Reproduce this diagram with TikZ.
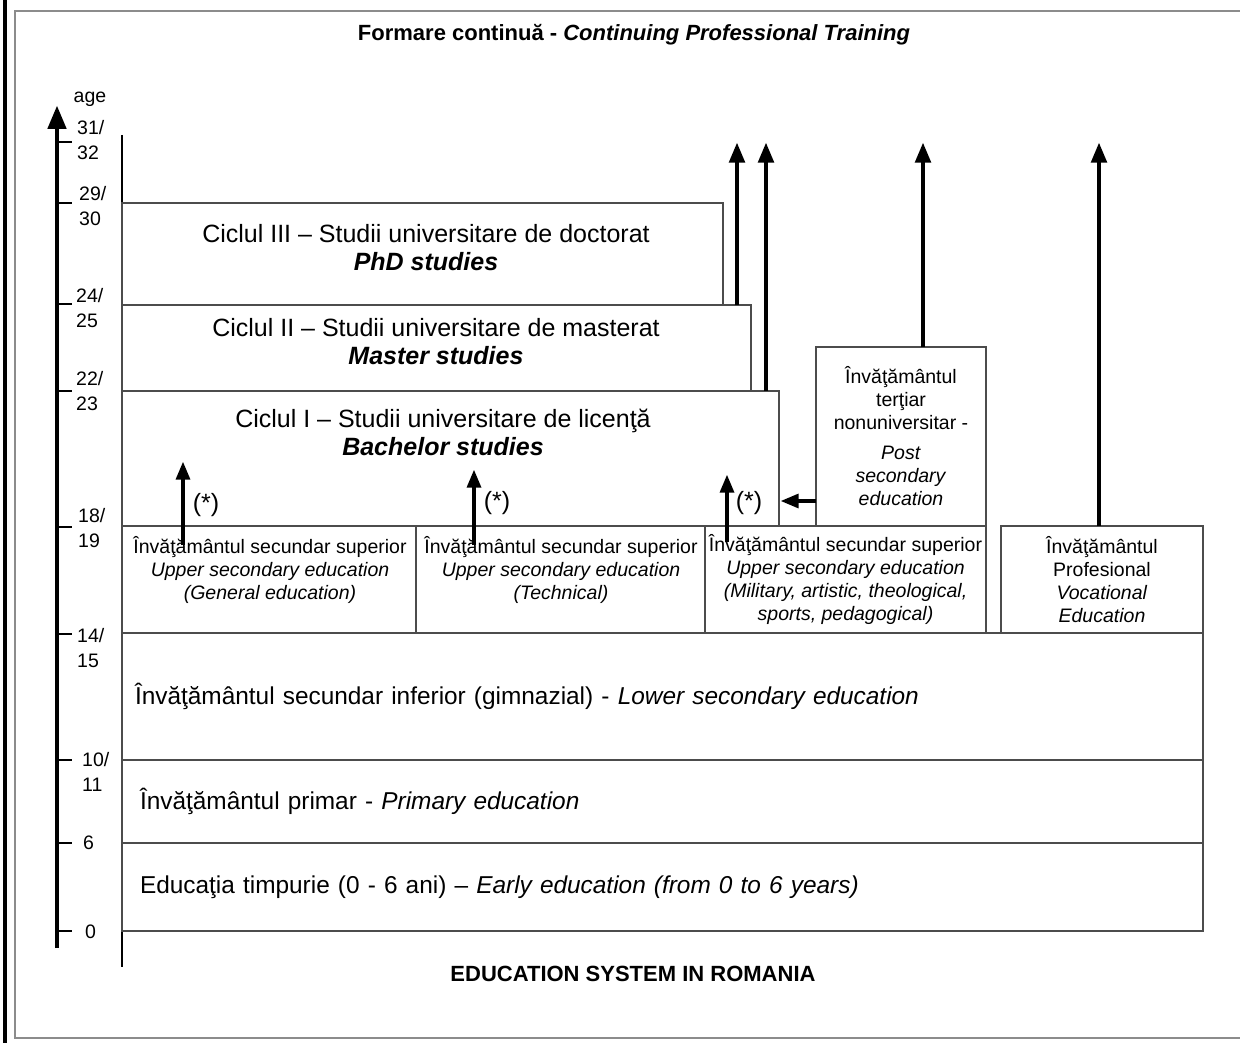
\documentclass[tikz,border=0pt]{standalone}
\usepackage{fontspec}
\setmainfont{Liberation Sans}
\usetikzlibrary{arrows,positioning}

\begin{document}
\begin{tikzpicture}[x=1pt,y=1pt,
    box/.style={draw=black!70, line width=1.3pt, inner sep=0pt, outer sep=0pt},
    big/.style={font=\fontsize{25}{28}\selectfont, align=center, inner sep=0pt},
    row/.style={font=\fontsize{24.4}{28}\selectfont, align=left, inner sep=0pt},
    small/.style={font=\fontsize{19.5}{23}\selectfont, align=center, inner sep=0pt},
    head/.style={font=\fontsize{22}{26}\selectfont\bfseries, inner sep=0pt},
    agenum/.style={font=\fontsize{19.5}{24.5}\selectfont, align=left, anchor=west, inner sep=0pt},
    up/.style={-triangle 45, line width=3.7pt},
    star/.style={-triangle 45, line width=3.2pt}]
    \useasboundingbox (0,0) rectangle (1240,-1043);
    % frame
    \draw [black!45, line width=2pt] (15,-11) rectangle (1260,-1038);
    \draw [black, line width=4pt] (5,0) -- (5,-1043);
    % titles
    \node [head] (title) at (634,-35) {Formare continuă - \textit{Continuing Professional Training}};
    \node [head] (foot) at (633,-974) {EDUCATION SYSTEM IN ROMANIA};
    % age axis
    \coordinate (ax0) at (57,-948);
    \coordinate (ax1) at (57,-106);
    \draw [-triangle 45, line width=4.5pt] (ax0) -- (ax1);
    \node [small] (age) at (90,-99) {age};
    \draw [line width=1.3pt] (57,-142) -- (72,-142);
    \draw [line width=1.3pt] (57,-203) -- (72,-203);
    \draw [line width=1.3pt] (57,-304) -- (72,-304);
    \draw [line width=1.3pt] (57,-391) -- (72,-391);
    \draw [line width=1.3pt] (57,-527) -- (72,-527);
    \draw [line width=1.3pt] (57,-634) -- (72,-634);
    \draw [line width=1.3pt] (57,-760) -- (72,-760);
    \draw [line width=1.3pt] (57,-843) -- (72,-843);
    \draw [line width=1.3pt] (57,-931) -- (72,-931);
    \node [agenum] (a31) at (77,-140) {31/\\32};
    \node [agenum] (a29) at (79,-206) {29/\\30};
    \node [agenum] (a24) at (76,-308) {24/\\25};
    \node [agenum] (a22) at (76,-391) {22/\\23};
    \node [agenum] (a18) at (78,-528) {18/\\19};
    \node [agenum] (a14) at (77,-648) {14/\\15};
    \node [agenum] (a10) at (82,-772) {10/\\11};
    \node [agenum] (a6) at (83,-843) {6};
    \node [agenum] (a0) at (85,-932) {0};
    \draw [line width=1.3pt] (122,-135) -- (122,-967);
    % university cycles
    \node [box, minimum width=601pt, minimum height=102pt] (phd) at (422.5,-254) {};
    \node [big] (phdtxt) at (426,-247.5) {Ciclul III – Studii universitare de doctorat\\\textbf{\textit{PhD studies}}};
    \node [box, minimum width=629pt, minimum height=86pt] (master) at (436.5,-348) {};
    \node [big] (mastertxt) at (436,-342) {Ciclul II – Studii universitare de masterat\\\textbf{\textit{Master studies}}};
    \node [box, minimum width=657pt, minimum height=135pt] (bach) at (450.5,-458.5) {};
    \node [big] (bachtxt) at (443,-432) {Ciclul I – Studii universitare de licenţă\\\textbf{\textit{Bachelor studies}}};
    \node [box, small, minimum width=170pt, minimum height=179pt] (post) at (901,-436.5)
        {Învăţământul\\terţiar\\nonuniversitar -\\[7pt]\textit{Post}\\\textit{secondary}\\\textit{education}};
    % upper secondary
    \node [box, minimum width=294pt, minimum height=107pt] (usgen) at (269,-579.5) {};
    \node [small] (usgentxt) at (270,-570) {Învăţământul secundar superior\\\textit{Upper secondary education}\\\textit{(General education)}};
    \node [box, minimum width=289pt, minimum height=107pt] (ustech) at (560.5,-579.5) {};
    \node [small] (ustechtxt) at (561,-570) {Învăţământul secundar superior\\\textit{Upper secondary education}\\\textit{(Technical)}};
    \node [box, small, minimum width=281pt, minimum height=107pt] (usother) at (845.5,-579.5)
        {Învăţământul secundar superior\\\textit{Upper secondary education}\\\textit{(Military, artistic, theological,}\\\textit{sports, pedagogical)}};
    \node [box, small, minimum width=202pt, minimum height=107pt] (voc) at (1102,-579.5)
        {Învăţământul\\Profesional\\\textit{Vocational}\\\textit{Education}};
    % lower levels
    \node [box, row, inner xsep=13pt, text width=1055pt, minimum height=127pt] (lower) at (662.5,-696.5)
        {Învăţământul secundar inferior (gimnazial) - \textit{Lower secondary education}};
    \node [box, row, inner xsep=18pt, text width=1045pt, minimum height=83pt] (primary) at (662.5,-801.5)
        {Învăţământul primar - \textit{Primary education}};
    \node [box, row, inner xsep=18pt, text width=1045pt, minimum height=88pt] (early) at (662.5,-887)
        {Educaţia timpurie (0 - 6 ani) – \textit{Early education (from 0 to 6 years)}};
    % continuing training arrows
    \coordinate (up1) at (737,-143);
    \coordinate (up2) at (766,-143);
    \coordinate (up3) at (923,-143);
    \coordinate (up4) at (1099,-143);
    \draw [up] (master.north -| up1) -- (up1);
    \draw [up] (bach.north -| up2) -- (up2);
    \draw [up] (post.north -| up3) -- (up3);
    \draw [up] (voc.north -| up4) -- (up4);
    % access to bachelor
    \coordinate (g0) at (183,-545);
    \coordinate (g1) at (183,-462);
    \coordinate (t0) at (474,-545);
    \coordinate (t1) at (474,-470);
    \coordinate (o0) at (727,-542);
    \coordinate (o1) at (727,-475);
    \draw [star] (g0) -- (g1);
    \draw [star] (t0) -- (t1);
    \draw [star] (o0) -- (o1);
    \node [big] (sg) at (206,-505) {(*)};
    \node [big] (st) at (497,-503) {(*)};
    \node [big] (so) at (749,-503) {(*)};
    \coordinate (pb) at (781,-501);
    \draw [star] (post.west |- pb) -- (pb);
\end{tikzpicture}
\end{document}
